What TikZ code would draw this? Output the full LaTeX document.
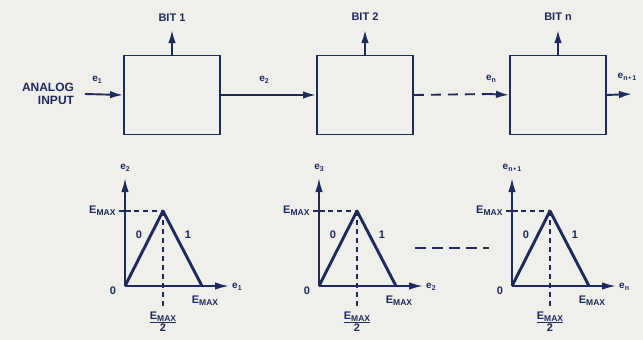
\documentclass[tikz,border=0pt]{standalone}
\usepackage{fontspec}
\setmainfont{Liberation Sans}
\usetikzlibrary{arrows.meta}
\definecolor{ink}{RGB}{30,42,92}
\definecolor{paper}{RGB}{239,239,236}
\newcommand\lsub[1]{\raisebox{-0.45ex}{\fontsize{7}{7}\selectfont #1}}
\newcommand\emax{E\raisebox{-1.6pt}{\fontsize{8.5}{8.5}\selectfont MAX}}
\begin{document}
\begin{tikzpicture}[x=1pt,y=-1pt,
  every node/.style={text=ink,font=\bfseries},
  blk/.style={draw=ink,line width=1.9pt,minimum width=96pt,minimum height=79pt,inner sep=0pt},
  sig/.style={draw=ink,line width=1.9pt,-{Latex[length=13pt,width=7.5pt]}},
  axis/.style={draw=ink,line width=1.9pt,-{Latex[length=14pt,width=7.5pt]}},
  tri/.style={draw=ink,line width=2.9pt,line join=round},
  guide/.style={draw=ink,line width=1.6pt,dash pattern=on 5pt off 4pt},
  lab/.style={font=\bfseries\fontsize{11}{11}\selectfont},
  elab/.style={font=\bfseries\fontsize{10}{10}\selectfont,inner sep=1pt},
]
\fill[paper] (0,0) rectangle (643,340);
\useasboundingbox (0,0) rectangle (643,340);

% blocks
\node[blk] (b1) at (172,95) {};
\node[blk] (b2) at (365,95) {};
\node[blk] (b3) at (558,95) {};

% input
\node[lab,align=right,font=\bfseries\fontsize{12}{13}\selectfont] (ain) at (48,94) {ANALOG\\INPUT};
\coordinate (in) at (85,94);
\coordinate (dashend) at (489,94);
\coordinate (out) at (632,94);
\draw[sig] (in) -- (b1.west);
\draw[sig] (b1.east) -- (b2.west);
\draw[guide,line width=1.9pt,dash pattern=on 10pt off 7pt] (b2.east) -- (dashend);
\draw[sig] (dashend) -- (b3.west);
\draw[sig] (b3.east) -- (out);
\node[elab] (e1) at (97,80) {e\lsub{1}};
\node[elab] (e2) at (264,80) {e\lsub{2}};
\node[elab] (en) at (491,79) {e\lsub{n}};
\node[elab] (enp) at (627,77) {e\lsub{n\,•\,1}};

% bits
\coordinate (t1) at (172,30);
\coordinate (t2) at (365,30);
\coordinate (t3) at (558,30);
\draw[sig] (b1.north) -- (t1);
\draw[sig] (b2.north) -- (t2);
\draw[sig] (b3.north) -- (t3);
\node[lab] (bit1) at (172,18) {BIT 1};
\node[lab] (bit2) at (365,17) {BIT 2};
\node[lab] (bitn) at (558,17) {BIT n};

% transfer graphs
\foreach \ox/\yl/\xl [count=\i] in {125/{e\lsub{2}}/{e\lsub{1}},319/{e\lsub{3}}/{e\lsub{2}},512/{e\lsub{n\,•\,1}}/{e\lsub{n}}}{
  \coordinate (o\i) at (\ox,286);
  \coordinate (ytop\i) at (\ox,178);
  \coordinate (xend\i) at (\ox+104,286);
  \coordinate (pk\i) at (\ox+38,211);
  \coordinate (rb\i) at (\ox+77,286);
  \coordinate (ym\i) at (\ox,211);
  \coordinate (dv\i) at (\ox+38,309);
  \draw[guide] (ym\i) -- (pk\i);
  \draw[guide] (pk\i) -- (dv\i);
  \draw[axis] (o\i) -- (ytop\i);
  \draw[axis] (o\i) -- (xend\i);
  \draw[ink,line width=1.6pt] (\ox-6,211) -- (\ox+6,211);
  \draw[tri] (o\i) -- (pk\i) -- (rb\i);
  \node[elab] (yl\i) at (\ox,168) {\yl};
  \node[elab,anchor=west] (xl\i) at (\ox+106,287) {\xl};
  \node[lab,anchor=east] (ey\i) at (\ox-6,211) {\emax};
  \node[lab] (z\i) at (\ox-12,291) {0};
  \node[lab] (zero\i) at (\ox+14,235) {0};
  \node[lab] (one\i) at (\ox+63,235) {1};
  \node[lab] (ex\i) at (\ox+80,301) {\emax};
  \node[lab,align=center,font=\bfseries\fontsize{11}{9}\selectfont] (fr\i) at (\ox+38,322) {\underline{\emax}\\2};
}
\coordinate (gd1) at (415,248);
\coordinate (gd2) at (489,248);
\draw[guide,line width=1.9pt,dash pattern=on 11pt off 6pt] (gd1) -- (gd2);
\end{tikzpicture}
\end{document}
